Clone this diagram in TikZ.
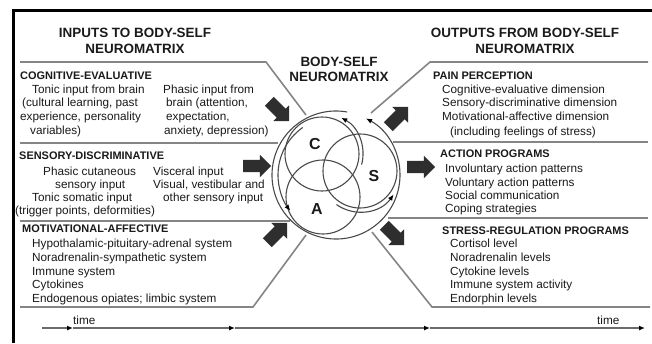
\documentclass[tikz,border=0pt]{standalone}
\usepackage{fontspec}
\setmainfont{Liberation Sans}
\usetikzlibrary{shapes.arrows,arrows.meta,calc}
\definecolor{txt}{HTML}{1A1A1A}
\definecolor{pline}{HTML}{858585}
\definecolor{rline}{HTML}{4A4A4A}
\definecolor{barrow}{HTML}{2E2E2E}
\begin{document}
\begin{tikzpicture}[x=1bp,y=-1bp,
  hdr/.style={font=\fontsize{13.5}{15}\selectfont\bfseries,text=txt,inner sep=0pt,anchor=base},
  sec/.style={font=\fontsize{11}{13}\selectfont\bfseries,text=txt,inner sep=0pt,anchor=base west},
  body/.style={font=\fontsize{11.8}{14}\selectfont,text=txt,inner sep=0pt,anchor=base west},
  panel/.style={draw=pline,line width=1.6bp},
  ring/.style={draw=rline,line width=1.1bp},
  ringarrow/.style={ring,-{Latex[length=6bp,width=5bp,color=black]}},
  blockarrow/.style={single arrow,fill=barrow,draw=none,minimum height=28bp,inner sep=6bp,single arrow head extend=5bp},
  circlbl/.style={font=\fontsize{16}{18}\selectfont\bfseries,text=txt,inner sep=0pt},
  axis/.style={draw=pline!80!black,line width=1.4bp,-{Latex[length=6bp,width=5bp,color=black]}}
]
\fill[white] (0,0) rectangle (652,343);
\useasboundingbox (0,0) rectangle (652,343);
% frame
\draw[line width=3bp,black] (13.5,343) -- (13.5,10) -- (652,10);

% headers
\node[hdr] (inh1) at (135,37) {INPUTS TO BODY-SELF};
\node[hdr] (inh2) at (135,53) {NEUROMATRIX};
\node[hdr] (ch1) at (339,66) {BODY-SELF};
\node[hdr] (ch2) at (339,81) {NEUROMATRIX};
\node[hdr] (outh1) at (525,37) {OUTPUTS FROM BODY-SELF};
\node[hdr] (outh2) at (525,53) {NEUROMATRIX};

% panel outlines, left
\draw[panel] (20,62) -- (266,62) -- (306,115);
\draw[panel] (20,143) -- (278,143);
\draw[panel] (20,221) -- (290,221);
\draw[panel] (20,307) -- (253,307) -- (306,235);
% panel outlines, right
\draw[panel] (371,113) -- (430,62) -- (648,62);
\draw[panel] (393,142) -- (648,142);
\draw[panel] (388,218) -- (648,218);
\draw[panel] (372,232) -- (432,307) -- (650,307);

% left texts
\node[sec] (ce) at (20,79) {COGNITIVE-EVALUATIVE};
\node[body] (ce1) at (32,93) {Tonic input from brain};
\node[body] (ce2) at (22,106) {(cultural learning, past};
\node[body] (ce3) at (20,120) {experience, personality};
\node[body] (ce4) at (30,134) {variables)};
\node[body] (ce5) at (163,93) {Phasic input from};
\node[body] (ce6) at (166,106) {brain (attention,};
\node[body] (ce7) at (166,120) {expectation,};
\node[body] (ce8) at (164,134) {anxiety, depression)};

\node[sec] (sd) at (19,159) {SENSORY-DISCRIMINATIVE};
\node[body] (sd1) at (43,175) {Phasic cutaneous};
\node[body] (sd2) at (55,188) {sensory input};
\node[body] (sd3) at (32,201) {Tonic somatic input};
\node[body] (sd4) at (15,214) {(trigger points, deformities)};
\node[body] (sd5) at (153,175) {Visceral input};
\node[body] (sd6) at (153,188) {Visual, vestibular and};
\node[body] (sd7) at (163,201) {other sensory input};

\node[sec] (ma) at (22,232) {MOTIVATIONAL-AFFECTIVE};
\node[body] (ma1) at (32,247) {Hypothalamic-pituitary-adrenal system};
\node[body] (ma2) at (32,261) {Noradrenalin-sympathetic system};
\node[body] (ma3) at (32,275) {Immune system};
\node[body] (ma4) at (32,288) {Cytokines};
\node[body] (ma5) at (32,302) {Endogenous opiates; limbic system};

% right texts
\node[sec] (pp) at (433,79) {PAIN PERCEPTION};
\node[body] (pp1) at (442,93) {Cognitive-evaluative dimension};
\node[body] (pp2) at (442,106) {Sensory-discriminative dimension};
\node[body] (pp3) at (442,120) {Motivational-affective dimension};
\node[body] (pp4) at (450,135) {(including feelings of stress)};

\node[sec] (ap) at (440,157) {ACTION PROGRAMS};
\node[body] (ap1) at (445,172) {Involuntary action patterns};
\node[body] (ap2) at (445,186) {Voluntary action patterns};
\node[body] (ap3) at (445,199) {Social communication};
\node[body] (ap4) at (445,212) {Coping strategies};

\node[sec] (sr) at (442,234) {STRESS-REGULATION PROGRAMS};
\node[body] (sr1) at (450,247) {Cortisol level};
\node[body] (sr2) at (450,261) {Noradrenalin levels};
\node[body] (sr3) at (450,275) {Cytokine levels};
\node[body] (sr4) at (450,288) {Immune system activity};
\node[body] (sr5) at (450,302) {Endorphin levels};

% neuromatrix circles
\coordinate (O) at (336,175);
\coordinate (Cc) at (322,154);
\coordinate (Sc) at (360,171);
\coordinate (Ac) at (323,197);
\draw[ring] (Cc) circle[radius=37];
\draw[ring] (Sc) circle[radius=37];
\draw[ring] (Ac) circle[radius=37];
\draw[ringarrow] ($(O)+(-80:64)$) arc[start angle=-80,end angle=-422,radius=64];
\draw[ringarrow] ($(O)+(-125:58)$) arc[start angle=-125,end angle=-218,radius=58];
\draw[ringarrow] ($(Cc)+(15:41)$) arc[start angle=15,end angle=-62,radius=41];
\draw[ringarrow] ($(Sc)+(125:41)$) arc[start angle=125,end angle=35,radius=41];
\node[circlbl] (lc) at (315,144) {C};
\node[circlbl] (ls) at (374,176) {S};
\node[circlbl] (la) at (317,209) {A};

% block arrows
\node[blockarrow,rotate=-45] (ba1) at (277,109) {};
\node[blockarrow] (ba2) at (254,166) {};
\node[blockarrow,rotate=45] (ba3) at (275,235) {};
\node[blockarrow,rotate=45] (ba4) at (396,119) {};
\node[blockarrow] (ba5) at (418,167) {};
\node[blockarrow,rotate=-45] (ba6) at (392,233) {};

% time axis
\coordinate (t0) at (42,328);
\coordinate (t1) at (73,328);
\coordinate (t2) at (235,328);
\coordinate (t3) at (430,328);
\coordinate (t4) at (645,328);
\draw[axis] (t0) -- (t1);
\draw[axis] (t1) -- (t2);
\draw[axis] (t2) -- (t3);
\draw[axis] (t3) -- (t4);
\node[body] (time1) at (73,324) {time};
\node[body] (time2) at (597,324) {time};
\end{tikzpicture}
\end{document}
